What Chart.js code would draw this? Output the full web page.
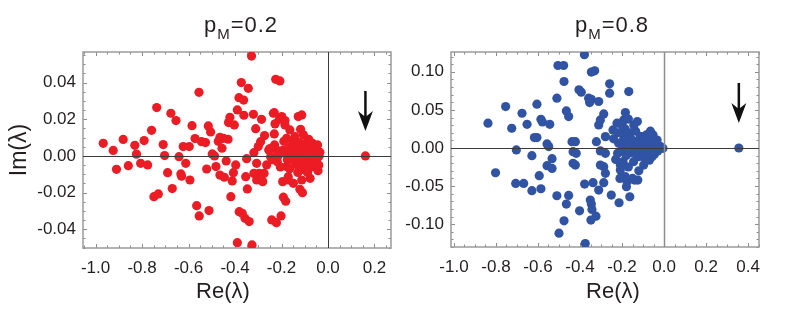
<!DOCTYPE html>
<html><head><meta charset="utf-8">
<script src="https://cdn.jsdelivr.net/npm/chart.js@4/dist/chart.umd.min.js"></script>
<style>
html,body{margin:0;padding:0;background:#fff;}
#wrap{position:relative;width:785px;height:318px;overflow:hidden;background:#fff;}
.cv{position:absolute;top:0;height:318px;}
.txt{position:absolute;font-family:"Liberation Sans",Arial,sans-serif;color:#231f20;white-space:nowrap;transform:translateX(-50%);}
.ttl{font-size:22px;line-height:22px;letter-spacing:1px;}
.ttl sub{font-size:15px;vertical-align:-7px;line-height:0;}
.xt{font-size:22px;line-height:22px;}
</style></head>
<body><div id="wrap">
<div class="cv" style="left:0;width:400px"><canvas id="cL" width="400" height="318"></canvas></div>
<div class="cv" style="left:392px;width:393px"><canvas id="cR" width="393" height="318"></canvas></div>
<div class="txt ttl" style="left:241px;top:14px">p<sub>M</sub>=0.2</div>
<div class="txt ttl" style="left:612px;top:14px">p<sub>M</sub>=0.8</div>
<div class="txt xt" id="xtL" style="left:223px;top:280px"></div>
<div class="txt xt" id="xtR" style="left:613px;top:280px"></div>
</div>
<script>
// ---- data: eigenvalues [Re, Im] ----
const eigL = [
[-0.967,0.0069],[-0.924,0.003],[-0.910,-0.0073],[-0.881,0.009],[-0.859,-0.0053],[-0.831,0.0058],[-0.824,0.001],[-0.806,-0.004],
[-0.791,0.0084],[-0.776,-0.0049],[-0.759,0.014],[-0.749,-0.0222],[-0.730,-0.0207],[-0.737,0.0264],[-0.709,0.0062],[-0.703,0.0002],
[-0.690,-0.0091],[-0.676,0.0233],[-0.670,-0.0178],[-0.654,0.0193],[-0.641,-0.0004],[-0.633,-0.0098],[-0.630,-0.011],[-0.623,0.0051],
[-0.612,-0.004],[-0.597,0.0051],[-0.594,-0.0131],[-0.585,0.0165],[-0.572,0.0095],[-0.565,-0.0271],[-0.555,0.0347],[-0.554,-0.0327],
[-0.544,0.0078],[-0.527,0.0073],[-0.522,-0.0071],[-0.515,0.0164],[-0.512,-0.0298],[-0.505,0.0131],[-0.498,0.0011],[-0.488,0.0],
[-0.482,-0.0058],[-0.472,0.008],[-0.465,0.0102],[-0.465,-0.0104],[-0.456,0.0042],[-0.450,0.0096],[-0.446,-0.0116],[-0.438,-0.0027],
[-0.430,0.0091],[-0.428,0.0182],[-0.422,0.0211],[-0.418,-0.0222],[-0.412,-0.0136],[-0.407,-0.0091],[-0.403,0.0169],[-0.397,-0.0049],
[-0.390,0.0251],[-0.390,-0.0473],[-0.383,0.0318],[-0.382,-0.0304],[-0.373,0.040],[-0.369,-0.0313],[-0.363,0.0305],[-0.362,0.0222],
[-0.357,-0.034],[-0.354,-0.0113],[-0.350,-0.0015],[-0.347,-0.018],[-0.343,0.0369],[-0.339,-0.0358],[-0.329,0.0545],[-0.327,-0.0485],
[-0.321,0.0227],[-0.319,0.0018],[-0.319,-0.0095],[-0.311,0.0149],[-0.307,-0.004],[-0.307,-0.0131],[-0.300,0.0051],[-0.296,-0.0095],
[-0.290,0.0078],[-0.286,0.020],[-0.281,-0.014],[-0.275,-0.0095],[-0.273,0.0111],[-0.264,-0.0049],[-0.255,0.0033],[-0.247,-0.0004],
[-0.242,-0.0349],[-0.235,0.0233],[-0.231,0.012],[-0.228,0.0175],[-0.225,0.0418],[-0.222,-0.0364],[-0.221,0.0033],[-0.218,-0.0031],
[-0.209,0.020],[-0.207,0.0409],[-0.202,-0.0327],[-0.199,0.0215],[-0.195,-0.014],[-0.192,-0.0225],[-0.185,0.0169],[-0.182,-0.0247],
[-0.181,0.0015],[-0.178,-0.0058],[-0.171,-0.0131],[-0.164,0.0142],[-0.161,0.0051],[-0.156,-0.0004],[-0.149,-0.0149],[-0.142,0.0105],
[-0.138,0.0015],[-0.132,-0.0049],[-0.128,0.0215],[-0.123,0.0073],[-0.121,-0.0182],[-0.118,0.0145],[-0.113,0.0224],[-0.113,-0.0131],
[-0.110,-0.020],[-0.109,-0.0022],[-0.106,0.0115],[-0.103,0.0029],[-0.099,-0.0076],[-0.095,0.0069],[-0.092,-0.0004],[-0.085,-0.0049],
[-0.080,0.0051],[-0.077,-0.0122],[-0.075,0.0024],[-0.070,-0.0022],[-0.066,0.0051],[-0.063,-0.0058],[-0.060,0.0015],[-0.056,0.0042],
[-0.053,-0.0031],[-0.049,0.0005],[-0.046,-0.0013],[-0.042,0.0024],
[-0.231,0.0236],[-0.185,0.0193],[-0.178,0.0096],[-0.171,-0.0113],
[-0.25,0.004],[-0.24,-0.002],[-0.23,0.006],[-0.215,0.0],[-0.205,-0.006],[-0.195,0.003],[-0.19,0.008],[-0.175,-0.002],[-0.17,0.004],
[-0.165,-0.007],[-0.15,0.007],[-0.145,-0.003],[-0.135,0.004],[-0.13,-0.009],[-0.125,0.0],[-0.115,-0.005],[-0.105,0.006],[-0.1,-0.002],
[-0.095,0.002],[-0.088,-0.009],[-0.083,0.009],[-0.078,0.0],[-0.072,-0.006],[-0.068,0.007],[-0.058,-0.004],[-0.052,0.003],[-0.045,0.006],
[-0.04,-0.005],[-0.038,0.0],[-0.043,-0.008],[-0.035,0.002],
[0.161,0.0]
];
const eigR = [
[-0.838,0.0325],[-0.802,-0.0325],[-0.754,0.0544],[-0.725,0.0259],[-0.703,-0.0026],[-0.706,-0.0465],[-0.676,0.0456],[-0.668,-0.0465],
[-0.652,0.0311],[-0.629,-0.0101],[-0.629,-0.0561],[-0.617,0.0136],[-0.605,0.0136],[-0.605,0.0575],[-0.594,-0.0364],[-0.586,0.0377],
[-0.579,0.0342],[-0.586,-0.0535],[-0.557,0.0053],[-0.549,0.0018],[-0.544,0.0311],[-0.557,-0.0232],[-0.533,-0.014],[-0.533,-0.0268],
[-0.510,0.0654],[-0.510,-0.0627],[-0.505,0.1083],[-0.478,0.1083],[-0.500,-0.1118],[-0.476,0.0873],[-0.476,-0.0956],[-0.465,0.0487],
[-0.454,0.0412],[-0.465,-0.0737],[-0.454,-0.0623],[-0.438,0.0083],[-0.422,0.0083],[-0.433,-0.0048],[-0.418,-0.007],[-0.433,-0.0202],
[-0.422,-0.0224],[-0.405,0.0763],[-0.394,0.0732],[-0.402,-0.0825],[-0.379,0.1224],[-0.378,-0.0474],[-0.375,-0.1254],[-0.359,0.0654],
[-0.346,0.064],[-0.354,0.0596],[-0.351,-0.0684],[-0.346,-0.0737],[-0.343,-0.0807],[-0.346,0.0996],[-0.330,0.1013],[-0.348,-0.0947],
[-0.324,-0.0895],[-0.338,-0.0456],[-0.322,0.0083],[-0.311,0.061],[-0.311,0.0303],[-0.303,0.0368],[-0.311,-0.0553],[-0.303,-0.0039],
[-0.303,-0.0224],[-0.287,0.0447],[-0.287,-0.0456],[-0.287,-0.0246],[-0.279,-0.007],[-0.279,0.0149],[-0.279,-0.0333],[-0.259,0.0842],
[-0.259,0.0719],[-0.251,-0.0618],[-0.243,0.0237],[-0.224,0.0325],[-0.216,0.0061],[-0.221,-0.007],[-0.214,-0.0719],[-0.208,-0.0224],
[-0.208,-0.0289],[-0.192,0.0158],[-0.192,0.0368],[-0.184,0.0465],[-0.184,-0.0377],[-0.176,-0.0443],[-0.179,-0.0509],[-0.168,0.0741],
[-0.163,-0.064],[-0.144,0.0303],[-0.140,-0.0421],[-0.125,-0.0421],[-0.127,0.0346],[-0.121,-0.0114],[-0.113,0.0149],[-0.097,-0.0224],
[-0.084,0.0171],[-0.057,-0.0114],[-0.052,0.0171],[-0.033,0.0105],[-0.017,0.0018],[-0.005,-0.0004],
[-0.24,0.012],[-0.23,-0.015],[-0.22,0.02],[-0.21,-0.005],[-0.2,0.008],[-0.195,-0.018],[-0.19,0.0],[-0.185,0.025],[-0.18,-0.01],
[-0.175,0.012],[-0.17,-0.025],[-0.165,0.004],[-0.16,0.02],[-0.155,-0.006],[-0.15,0.01],[-0.145,-0.018],[-0.14,0.0],[-0.135,0.022],
[-0.13,-0.008],[-0.125,0.006],[-0.12,-0.03],[-0.115,0.002],[-0.11,0.015],[-0.105,-0.004],[-0.1,0.008],[-0.095,-0.012],[-0.09,0.012],
[-0.088,0.0],[-0.08,-0.006],[-0.075,0.005],[-0.07,-0.016],[-0.065,0.01],[-0.06,-0.003],[-0.055,0.004],[-0.045,-0.008],[-0.04,0.006],
[-0.03,-0.004],[-0.025,0.003],[-0.065,0.022],[-0.17,0.038],[-0.15,-0.04],[-0.2,0.03],[-0.21,-0.04],
[0.356,0.0]
];
const xTicksL = [-1.0,-0.8,-0.6,-0.4,-0.2,0.0,0.2];
const yTicksL = [-0.04,-0.02,0.00,0.02,0.04];
const xTicksR = [-1.0,-0.8,-0.6,-0.4,-0.2,0.0,0.2,0.4];
const yTicksR = [-0.10,-0.05,0.00,0.05,0.10];
const arrowL = [0.161, 0.0];
const arrowR = [0.356, 0.0];
const axisTitleX = 'Re(λ)';
const axisTitleY = 'Im(λ)';

document.getElementById('xtL').textContent = axisTitleX;
document.getElementById('xtR').textContent = axisTitleX;

const FONT = "'Liberation Sans', Arial, Helvetica, sans-serif";
const TXT = '#231f20';

const framePlugin = {
  id: 'frame',
  beforeDatasetsDraw(chart, args, o) {
    const {ctx, chartArea: a, scales: {x, y}} = chart;
    ctx.save();
    ctx.strokeStyle = '#8c8c8c';
    ctx.lineWidth = 1;
    const near = (v, arr) => arr.some(t => Math.abs(t - v) < 1e-9);
    for (let i = Math.ceil(x.min / o.xStep - 1e-9); i * o.xStep <= x.max + 1e-9; i++) {
      const v = i * o.xStep, px = Math.round(x.getPixelForValue(v)) + 0.5;
      const L = near(v, o.xTicks) ? 4 : 2.5;
      ctx.beginPath();
      ctx.moveTo(px, a.bottom); ctx.lineTo(px, a.bottom - L);
      ctx.moveTo(px, a.top); ctx.lineTo(px, a.top + L);
      ctx.stroke();
    }
    for (let i = Math.ceil(y.min / o.yStep - 1e-9); i * o.yStep <= y.max + 1e-9; i++) {
      const v = i * o.yStep, py = Math.round(y.getPixelForValue(v)) + 0.5;
      const L = near(v, o.yTicks) ? 4 : 2.5;
      ctx.beginPath();
      ctx.moveTo(a.left, py); ctx.lineTo(a.left + L, py);
      ctx.moveTo(a.right, py); ctx.lineTo(a.right - L, py);
      ctx.stroke();
    }
    ctx.strokeStyle = '#9a9a9a';
    ctx.lineWidth = 1.5;
    ctx.strokeRect(a.left, a.top, a.right - a.left, a.bottom - a.top);
    ctx.restore();
  },
  afterDatasetsDraw(chart, args, o) {
    const {ctx, chartArea: a, scales: {x, y}} = chart;
    ctx.save();
    const y0 = Math.round(y.getPixelForValue(0)) + 0.5;
    const x0 = Math.round(x.getPixelForValue(0)) + 0.5;
    ctx.lineWidth = 1;
    ctx.strokeStyle = '#3a3a3a';
    ctx.beginPath(); ctx.moveTo(a.left, y0); ctx.lineTo(a.right, y0); ctx.stroke();
    ctx.strokeStyle = o.vColor;
    ctx.lineWidth = o.vWidth;
    ctx.beginPath(); ctx.moveTo(x0, a.top); ctx.lineTo(x0, a.bottom); ctx.stroke();
    const ax = x.getPixelForValue(o.arrow[0]);
    const ay = y.getPixelForValue(o.arrow[1]);
    const tip = ay - 25, top = ay - 65;
    ctx.fillStyle = '#111';
    ctx.fillRect(ax - 1.25, top, 2.5, (tip - 12) - top);
    ctx.beginPath();
    ctx.moveTo(ax, tip);
    ctx.lineTo(ax - 7.5, tip - 20);
    ctx.lineTo(ax, tip - 14);
    ctx.lineTo(ax + 7.5, tip - 20);
    ctx.closePath();
    ctx.fill();
    ctx.restore();
  }
};

function makeChart(id, pts, color, cfg) {
  return new Chart(document.getElementById(id), {
    type: 'scatter',
    data: { datasets: [{
      data: pts.map(p => ({x: p[0], y: p[1]})),
      backgroundColor: color, borderColor: color, borderWidth: 0,
      pointRadius: 4.6, pointHoverRadius: 4.6
    }]},
    options: {
      responsive: false, animation: false, events: [],
      layout: { padding: { left: 0, right: cfg.padRight, top: 52, bottom: 0 } },
      plugins: {
        legend: { display: false }, tooltip: { enabled: false },
        frame: { xStep: 0.05, yStep: cfg.yStep, xTicks: cfg.xTicks, yTicks: cfg.yTicks,
                 arrow: cfg.arrow, vColor: cfg.vColor, vWidth: cfg.vWidth }
      },
      scales: {
        x: {
          type: 'linear', min: cfg.xMin, max: cfg.xMax,
          afterBuildTicks: s => { s.ticks = cfg.xTicks.map(v => ({value: v})); },
          afterFit: s => { s.height = cfg.xH; },
          grid: { display: false, drawTicks: false }, border: { display: false },
          ticks: { autoSkip: false, maxRotation: 0, padding: 10, color: TXT,
                   font: { family: FONT, size: 17 }, callback: v => v.toFixed(1) },
          title: { display: false }
        },
        y: {
          type: 'linear', min: cfg.yMin, max: cfg.yMax,
          afterBuildTicks: s => { s.ticks = cfg.yTicks.map(v => ({value: v})); },
          afterFit: s => { s.width = cfg.yW; },
          grid: { display: false, drawTicks: false }, border: { display: false },
          ticks: { autoSkip: false, padding: 7, color: TXT,
                   font: { family: FONT, size: 17 }, callback: v => v.toFixed(2) },
          title: { display: cfg.showYTitle, text: axisTitleY, color: TXT,
                   font: { family: FONT, size: 23 }, padding: { top: 6, bottom: 0 } }
        }
      }
    },
    plugins: [framePlugin]
  });
}

makeChart('cL', eigL, '#ec1c24', {
  xMin: -1.054, xMax: 0.271, yMin: -0.0502, yMax: 0.0567,
  xTicks: xTicksL, yTicks: yTicksL, yStep: 0.005,
  padRight: 9, xH: 70, yW: 83, showYTitle: true,
  arrow: arrowL, vColor: '#3a3a3a', vWidth: 1
});
makeChart('cR', eigR, '#3153a4', {
  xMin: -1.014, xMax: 0.452, yMin: -0.130, yMax: 0.126,
  xTicks: xTicksR, yTicks: yTicksR, yStep: 0.01,
  padRight: 26, xH: 71, yW: 59, showYTitle: false,
  arrow: arrowR, vColor: '#8c8c8c', vWidth: 1.5
});
</script>
</body></html>
